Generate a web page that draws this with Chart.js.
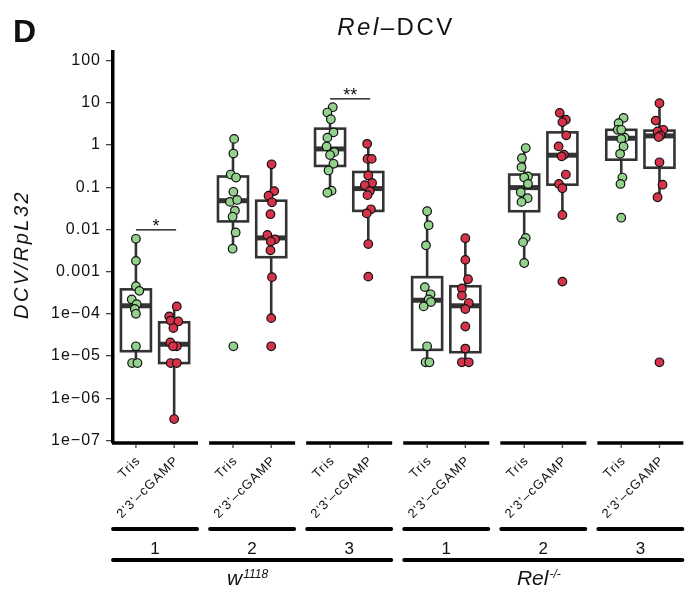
<!DOCTYPE html>
<html>
<head>
<meta charset="utf-8">
<script src="https://cdn.jsdelivr.net/npm/chart.js@4.4.1/dist/chart.umd.min.js"></script>
<style>
  body { margin: 0; background: #fff; }
</style>
</head>
<body>
<canvas id="myChart" width="690" height="593"></canvas>
<script>
// categories
const groupLabels = ["1", "2", "3", "1", "2", "3"];
const treatments = ["Tris", "2'3'–cGAMP"];
const genotypeNames = ["w", "Rel"];
const genotypeSups = ["1118", "-/-"];

// DCV/RpL32 per replicate, one list per group
const trisValues = [
  [6.0e-3, 1.8e-3, 4.5e-4, 3.5e-4, 2.2e-4, 1.7e-4, 1.3e-4, 1.0e-4, 1.7e-5, 6.8e-6, 6.8e-6],
  [1.4, 0.63, 0.20, 0.17, 0.078, 0.045, 0.050, 0.028, 0.020, 8.5e-3, 3.5e-3, 1.7e-5],
  [7.9, 5.9, 4.1, 2.0, 1.5, 0.93, 0.68, 0.58, 0.36, 0.25, 0.083, 0.074],
  [0.027, 0.0126, 4.2e-3, 4.3e-4, 2.9e-4, 2.2e-4, 1.9e-4, 1.5e-4, 1.7e-5, 7.1e-6, 7.1e-6],
  [0.85, 0.49, 0.30, 0.18, 0.17, 0.12, 0.076, 0.055, 0.045, 6.3e-3, 5.0e-3, 1.6e-3],
  [4.4, 3.3, 2.3, 2.3, 1.5, 1.4, 0.93, 0.62, 0.17, 0.12, 0.019],
];
const cgampValues = [
  [1.5e-4, 8.7e-5, 6.9e-5, 6.6e-5, 4.6e-5, 2.1e-5, 1.7e-5, 1.7e-5, 6.8e-6, 6.8e-6, 3.2e-7],
  [0.35, 0.081, 0.063, 0.044, 0.023, 7.4e-3, 5.8e-3, 5.2e-3, 3.2e-3, 7.4e-4, 7.9e-5, 1.7e-5],
  [1.07, 0.47, 0.47, 0.19, 0.126, 0.112, 0.081, 0.065, 0.030, 0.024, 4.5e-3, 7.6e-4],
  [6.2e-3, 1.9e-3, 6.6e-4, 4.0e-4, 2.7e-4, 1.8e-4, 1.3e-4, 5.0e-5, 1.5e-5, 7.1e-6, 7.1e-6],
  [5.8, 4.0, 3.5, 1.7, 0.93, 0.59, 0.54, 0.20, 0.12, 0.095, 0.022, 5.8e-4],
  [9.8, 3.8, 2.3, 2.1, 1.7, 1.55, 0.39, 0.115, 0.058, 7.1e-6],
];

// horizontal jitter of each point
const trisJitter = [
  [0, 0, 0, 0.09, -0.11, 0.02, -0.03, 0, 0, -0.10, 0.04],
  [0.03, 0.01, -0.06, 0.08, 0.01, -0.08, 0.11, 0.05, -0.01, 0.07, -0.01, 0.01],
  [0.07, -0.07, 0.02, 0.09, -0.07, -0.09, 0.11, 0, 0.09, -0.04, 0.04, -0.07],
  [0, 0.04, -0.03, -0.06, 0.09, 0.04, 0.10, -0.09, 0, -0.04, 0.06],
  [0.04, -0.06, -0.07, 0.10, 0, 0.10, -0.09, 0.09, -0.07, 0.04, -0.03, 0],
  [0.06, -0.07, -0.09, 0, 0.09, 0, 0.06, -0.03, 0.03, -0.02, 0],
];
const cgampJitter = [
  [0.07, -0.13, -0.09, 0.11, -0.02, -0.10, 0.07, -0.03, -0.09, 0.07, 0],
  [0.01, 0.08, -0.07, 0.02, -0.02, -0.10, 0.10, -0.01, -0.02, 0.02, 0, 0],
  [-0.03, -0.02, 0.09, 0, 0.10, -0.09, 0.04, -0.02, 0.07, -0.04, 0, 0],
  [0, 0, 0.07, -0.09, -0.09, 0.09, 0, 0, 0, -0.09, 0.09],
  [-0.07, 0.09, 0, 0.10, -0.10, 0.04, -0.02, 0.09, -0.09, 0, 0, 0],
  [0, -0.10, 0.10, -0.05, 0.03, -0.02, 0, 0.08, -0.05, 0],
];

// box stats: [lower whisker, Q1, median, Q3, upper whisker]
const trisBox = [
  [6.8e-6, 1.3e-5, 1.55e-4, 3.8e-4, 6.0e-3],
  [3.5e-3, 0.0155, 0.048, 0.18, 1.4],
  [0.074, 0.32, 0.81, 2.45, 7.9],
  [7.1e-6, 1.4e-5, 2.1e-4, 7.4e-4, 0.027],
  [1.6e-3, 0.027, 0.098, 0.20, 0.85],
  [0.12, 0.45, 1.45, 2.3, 4.4],
];
const cgampBox = [
  [3.2e-7, 6.8e-6, 1.9e-5, 6.3e-5, 1.5e-4],
  [7.9e-5, 2.2e-3, 6.3e-3, 0.048, 0.35],
  [4.5e-3, 0.0275, 0.093, 0.23, 1.07],
  [7.1e-6, 1.23e-5, 1.55e-4, 4.5e-4, 6.2e-3],
  [0.022, 0.115, 0.575, 2.0, 5.8],
  [0.058, 0.29, 1.65, 2.2, 9.8],
];

// significance brackets
const signifGroups = [0, 2];
const signifLabels = ["*", "**"];
const signifHeights = [0.0098, 12.4];

// y axis
const yTicks = [1e-7, 1e-6, 1e-5, 1e-4, 1e-3, 0.01, 0.1, 1, 10, 100];
const yTickLabels = ["1e−07", "1e−06", "1e−05", "1e−04", "0.001", "0.01", "0.1", "1", "10", "100"];

const groupStep = 2.54;
const FONT = "'Liberation Sans', Arial, sans-serif";
const GREEN = "#93d18d";
const RED = "#d6334b";
const BOX = "#333333";

function catPos(g, t) {
  return g * groupStep + t;
}

function pointsFor(values, jitter, t) {
  const out = [];
  for (let g = 0; g < values.length; g++) {
    for (let i = 0; i < values[g].length; i++) {
      out.push({ x: catPos(g, t) + jitter[g][i], y: values[g][i] });
    }
  }
  return out;
}

function seg(ctx, x1, y1, x2, y2) {
  ctx.beginPath();
  ctx.moveTo(x1, y1);
  ctx.lineTo(x2, y2);
  ctx.stroke();
}

const boxPlugin = {
  id: "boxes",
  beforeDraw(chart) {
    const ctx = chart.ctx;
    ctx.save();
    ctx.fillStyle = "#fff";
    ctx.fillRect(0, 0, chart.width, chart.height);
    ctx.restore();
    ctx.letterSpacing = "1px";
  },
  beforeDatasetsDraw(chart) {
    const { ctx, scales: { x, y } } = chart;
    const half = 15;
    ctx.save();
    ctx.strokeStyle = BOX;
    [trisBox, cgampBox].forEach(function (boxes, t) {
      boxes.forEach(function (b, g) {
        const cx = x.getPixelForValue(catPos(g, t));
        const p = b.map(v => y.getPixelForValue(v));
        ctx.lineWidth = 2.6;
        ctx.lineCap = "butt";
        seg(ctx, cx, p[0], cx, p[1]);
        seg(ctx, cx, p[3], cx, p[4]);
        ctx.fillStyle = "#fff";
        ctx.fillRect(cx - half, p[3], half * 2, p[1] - p[3]);
        ctx.strokeRect(cx - half, p[3], half * 2, p[1] - p[3]);
        ctx.lineWidth = 5;
        seg(ctx, cx - half, p[2], cx + half, p[2]);
      });
    });
    ctx.restore();
  },
  afterDraw(chart) {
    const { ctx, chartArea, scales: { x, y } } = chart;
    const base = chartArea.bottom;
    ctx.save();
    ctx.fillStyle = "#111";
    ctx.strokeStyle = "#000";

    // panel letter and title
    ctx.letterSpacing = "0px";
    ctx.font = "bold 32px " + FONT;
    ctx.textAlign = "left";
    ctx.textBaseline = "alphabetic";
    ctx.fillText("D", 13, 42);

    ctx.letterSpacing = "2.5px";
    ctx.font = "italic 24px " + FONT;
    const w1 = ctx.measureText("Rel").width;
    ctx.font = "24px " + FONT;
    const w2 = ctx.measureText("–DCV").width;
    let tx = 396 - (w1 + w2) / 2;
    ctx.font = "italic 24px " + FONT;
    ctx.fillText("Rel", tx, 35);
    ctx.font = "24px " + FONT;
    ctx.fillText("–DCV", tx + w1, 35);

    // y axis title
    ctx.save();
    ctx.translate(28, 319);
    ctx.rotate(-Math.PI / 2);
    ctx.font = "italic 20px " + FONT;
    ctx.letterSpacing = "2.5px";
    ctx.textAlign = "left";
    ctx.fillText("DCV/RpL32", 0, 0);
    ctx.restore();

    // significance brackets
    ctx.letterSpacing = "0px";
    signifGroups.forEach(function (g, k) {
      const xa = x.getPixelForValue(catPos(g, 0));
      const xb = x.getPixelForValue(catPos(g, 1));
      const yy = y.getPixelForValue(signifHeights[k]);
      ctx.lineWidth = 1.3;
      seg(ctx, xa, yy, xb + 2, yy);
      ctx.font = "18px " + FONT;
      ctx.textAlign = "center";
      ctx.fillText(signifLabels[k], (xa + xb) / 2 + 1, yy + 2);
    });

    // bottom axis, labels and group brackets
    groupLabels.forEach(function (lab, g) {
      const c = x.getPixelForValue(catPos(g, 0.5));
      ctx.strokeStyle = "#000";
      ctx.lineCap = "butt";
      ctx.lineWidth = 3.5;
      seg(ctx, c - 43, base, c + 43, base);
      treatments.forEach(function (t, k) {
        const px = x.getPixelForValue(catPos(g, k));
        ctx.strokeStyle = "#444";
        ctx.lineWidth = 1.3;
        seg(ctx, px, base + 1.5, px, base + 5);
        ctx.save();
        ctx.translate(px - 2, base + 11);
        ctx.rotate(-Math.PI / 4);
        ctx.font = "13px " + FONT;
        ctx.letterSpacing = "1px";
        ctx.textAlign = "right";
        ctx.textBaseline = "top";
        ctx.fillText(t, 0, 0);
        ctx.restore();
      });
      ctx.strokeStyle = "#000";
      ctx.lineCap = "round";
      ctx.lineWidth = 4;
      seg(ctx, c - 42, base + 86, c + 42, base + 86);
      ctx.font = "17px " + FONT;
      ctx.textAlign = "center";
      ctx.fillText(lab, c, base + 111);
    });

    // genotype brackets and labels
    genotypeNames.forEach(function (name, k) {
      const c1 = x.getPixelForValue(catPos(k * 3, 0.5));
      const c3 = x.getPixelForValue(catPos(k * 3 + 2, 0.5));
      ctx.lineWidth = 4;
      ctx.lineCap = "round";
      seg(ctx, c1 - 42, base + 117, c3 + 42, base + 117);
      ctx.textAlign = "left";
      ctx.font = "italic 21px " + FONT;
      const wm = ctx.measureText(name).width;
      ctx.font = "italic 12px " + FONT;
      const ws = ctx.measureText(genotypeSups[k]).width;
      const sx = (c1 + c3) / 2 - 5 - (wm + ws) / 2;
      ctx.font = "italic 21px " + FONT;
      ctx.fillText(name, sx, base + 142);
      ctx.font = "italic 12px " + FONT;
      ctx.fillText(genotypeSups[k], sx + wm + 1, base + 135);
    });
    ctx.restore();
  },
};

Chart.defaults.font.family = FONT;

new Chart(document.getElementById("myChart"), {
  type: "scatter",
  data: {
    datasets: [
      {
        label: treatments[0],
        data: pointsFor(trisValues, trisJitter, 0),
        backgroundColor: GREEN,
        borderColor: "#111",
        borderWidth: 1.2,
        pointRadius: 4.3,
      },
      {
        label: treatments[1],
        data: pointsFor(cgampValues, cgampJitter, 1),
        backgroundColor: RED,
        borderColor: "#111",
        borderWidth: 1.2,
        pointRadius: 4.3,
      },
    ],
  },
  options: {
    responsive: false,
    devicePixelRatio: 1,
    animation: false,
    layout: { padding: { left: 0, right: 0, top: 52, bottom: 150 } },
    plugins: {
      legend: { display: false },
      tooltip: { enabled: false },
    },
    scales: {
      x: {
        type: "linear",
        display: false,
        min: -0.6,
        max: 14.355,
      },
      y: {
        type: "logarithmic",
        min: Math.pow(10, -7.062),
        max: Math.pow(10, 2.206),
        afterFit: function (scale) {
          scale.width = 113;
        },
        afterBuildTicks: function (scale) {
          scale.ticks = yTicks.map(v => ({ value: v }));
        },
        border: { display: true, color: "#000", width: 3.5 },
        grid: {
          display: true,
          drawOnChartArea: false,
          drawTicks: true,
          tickLength: 7,
          color: "#444",
          lineWidth: 1.3,
        },
        ticks: {
          autoSkip: false,
          padding: 5,
          color: "#111",
          font: { size: 16 },
          callback: function (value) {
            const i = yTicks.indexOf(value);
            return i >= 0 ? yTickLabels[i] : "";
          },
        },
      },
    },
  },
  plugins: [boxPlugin],
});
</script>
</body>
</html>
